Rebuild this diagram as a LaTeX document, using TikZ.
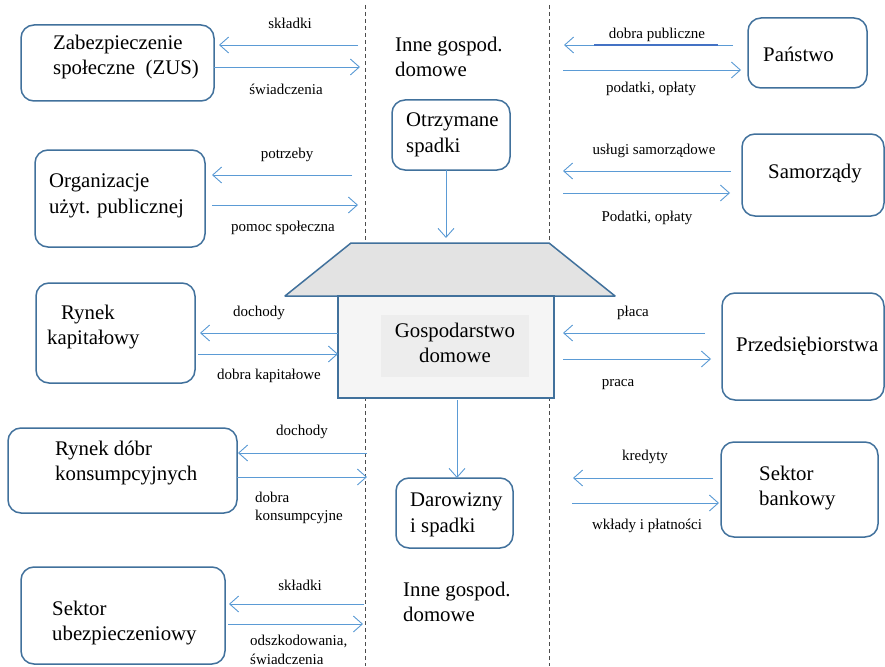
\documentclass[tikz,border=0pt]{standalone}
\usepackage{fontspec}
\setmainfont{Liberation Serif}
\usetikzlibrary{arrows.meta}
\definecolor{boxc}{HTML}{41719C}
\definecolor{arrc}{HTML}{5B9BD5}
\definecolor{ulc}{HTML}{4472C4}
\tikzset{
 box/.style={draw=boxc, line width=1.5pt, rounded corners=13pt, inner sep=0pt, outer sep=0pt},
 big/.style={font=\fontsize{20.8}{25.5}\selectfont, align=left, inner sep=0pt},
 lab/.style={font=\fontsize{15}{18.5}\selectfont, inner sep=0pt, align=left},
 flow/.style={draw=arrc, line width=0.9pt, -{Straight Barb[length=9pt,width=16pt,line width=0.9pt]}},
 sepline/.style={draw=black!70, line width=0.8pt, dash pattern=on 4pt off 3pt},
}
\begin{document}
\begin{tikzpicture}[x=1pt,y=-1pt]
\useasboundingbox (0,0) rectangle (885,666);
\fill[white] (0,0) rectangle (885,666);
% separators
\draw[sepline] (365,5) -- (365,666);
\draw[sepline] (549,5) -- (549,666);
% boxes
\node[box, minimum width=193pt, minimum height=76pt] (zus) at (117.5,63) {};
\node[box, minimum width=170pt, minimum height=97pt] (org) at (120,198.5) {};
\node[box, minimum width=159pt, minimum height=100pt] (rkap) at (115.5,333) {};
\node[box, minimum width=229pt, minimum height=85pt] (rdob) at (122.5,470.5) {};
\node[box, minimum width=204pt, minimum height=97pt] (ubez) at (123,615.5) {};
\node[box, minimum width=118pt, minimum height=70pt] (otrz) at (451,135) {};
\node[box, minimum width=117pt, minimum height=70pt] (daro) at (454.5,513) {};
\node[box, minimum width=119pt, minimum height=70pt] (panst) at (807.5,53) {};
\node[box, minimum width=142pt, minimum height=82pt] (samo) at (813,175) {};
\node[box, minimum width=162pt, minimum height=107pt] (przed) at (803,346.5) {};
\node[box, minimum width=157pt, minimum height=95pt] (bank) at (799.5,489.5) {};
% box texts
\node[big, anchor=west] (tzus) at (53,57) {Zabezpieczenie\\społeczne\ \ (ZUS)};
\node[big, anchor=west] (torg) at (49,196) {Organizacje\\użyt. publicznej};
\node[big, anchor=west] (trkap) at (47,327) {\hspace*{14pt}Rynek\\kapitałowy};
\node[big, anchor=west] (trdob) at (55,463) {Rynek dóbr\\konsumpcyjnych};
\node[big, anchor=west] (tubez) at (52,623) {Sektor\\ubezpieczeniowy};
\node[big, anchor=west] (totrz) at (406,135) {Otrzymane\\spadki};
\node[big, anchor=west] (tdaro) at (410,515) {Darowizny\\i spadki};
\node[big, anchor=west] (tpanst) at (763,54) {Państwo};
\node[big, anchor=west] (tsamo) at (768,174) {Samorządy};
\node[big, anchor=west] (tprzed) at (736,346) {Przedsiębiorstwa};
\node[big, anchor=west] (tbank) at (759,488) {Sektor\\bankowy};
\node[big, anchor=west] (inne1) at (395,57) {Inne gospod.\\domowe};
\node[big, anchor=west] (inne2) at (403,602) {Inne gospod.\\domowe};
% house
\draw[draw=boxc, fill=black!11, line width=1.5pt, line join=round] (351,243) -- (549,243) -- (615,296) -- (285,296) -- cycle;
\node[draw=boxc, fill=black!4, line width=1.5pt, minimum width=216pt, minimum height=102pt, inner sep=0pt, outer sep=0pt] (house) at (446,347) {};
\node[fill=black!7, minimum width=148pt, minimum height=62pt, inner sep=0pt] (hin) at (455,346) {};
\node[big, align=center] (thouse) at (455,343) {Gospodarstwo\\domowe};
% coordinates
\coordinate (a1s) at (358,45); \coordinate (a1e) at (219,45);
\coordinate (a2s) at (214,67); \coordinate (a2e) at (360,67);
\coordinate (b1s) at (352,175); \coordinate (b1e) at (212,175);
\coordinate (b2s) at (212,205); \coordinate (b2e) at (358,205);
\coordinate (c1s) at (338,333); \coordinate (c1e) at (200,333);
\coordinate (c2s) at (198,354); \coordinate (c2e) at (338,354);
\coordinate (d1s) at (367,453); \coordinate (d1e) at (238,453);
\coordinate (d2s) at (237,477); \coordinate (d2e) at (367,477);
\coordinate (e1s) at (364,604); \coordinate (e1e) at (229,604);
\coordinate (e2s) at (228,624); \coordinate (e2e) at (363,624);
\coordinate (f1s) at (733,45); \coordinate (f1e) at (564,45);
\coordinate (f2s) at (563,70); \coordinate (f2e) at (741,70);
\coordinate (g1s) at (731,171); \coordinate (g1e) at (563,171);
\coordinate (g2s) at (563,193); \coordinate (g2e) at (730,193);
\coordinate (h1s) at (705,333); \coordinate (h1e) at (563,333);
\coordinate (h2s) at (563,359); \coordinate (h2e) at (711,359);
\coordinate (k1s) at (713,478); \coordinate (k1e) at (573,478);
\coordinate (k2s) at (572,503); \coordinate (k2e) at (719,503);
\coordinate (roofin) at (446,238);
\coordinate (houseout) at (457,400);
% arrows
\foreach \p in {a1,a2,b1,b2,c1,c2,d1,d2,e1,e2,f1,f2,g1,g2,h1,h2,k1,k2}
  \draw[flow] (\p s) -- (\p e);
\draw[flow] (otrz.south -| roofin) -- (roofin);
\draw[flow] (houseout) -- (daro.north -| houseout);
\draw[ulc, line width=1.6pt] (594,45) -- (718,45);
% labels
\node[lab] (l1) at (290,23) {składki};
\node[lab] (l2) at (286,89) {świadczenia};
\node[lab] (l3) at (287,155) {potrzeby};
\node[lab] (l4) at (283,228) {pomoc społeczna};
\node[lab] (l5) at (259,313) {dochody};
\node[lab] (l6) at (269,376) {dobra kapitałowe};
\node[lab] (l7) at (302,432) {dochody};
\node[lab, anchor=west] (l8) at (255,508) {dobra\\konsumpcyjne};
\node[lab] (l9) at (300,585) {składki};
\node[lab, anchor=west] (l10) at (250,650) {odszkodowania,\\świadczenia};
\node[lab] (l11) at (657,35) {dobra publiczne};
\node[lab] (l12) at (651,89) {podatki, opłaty};
\node[lab] (l13) at (654,151) {usługi samorządowe};
\node[lab] (l14) at (647,218) {Podatki, opłaty};
\node[lab] (l15) at (633,313) {płaca};
\node[lab] (l16) at (618,385) {praca};
\node[lab] (l17) at (645,457) {kredyty};
\node[lab] (l18) at (647,526) {wkłady i płatności};
\end{tikzpicture}
\end{document}
